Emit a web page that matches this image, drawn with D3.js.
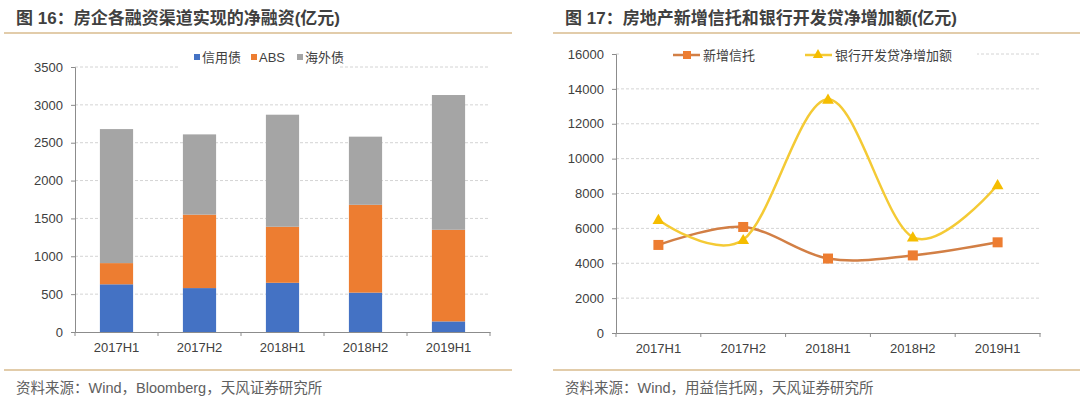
<!DOCTYPE html>
<html>
<head>
<meta charset="utf-8">
<script src="https://cdn.jsdelivr.net/npm/d3@7"></script>
<style>
  body { margin: 0; background: #fff; }
  svg { display: block; font-family: "Liberation Sans", Arial, "Noto Sans CJK SC", sans-serif; }
  .tick text { fill: #404040; font-size: 13px; }
</style>
</head>
<body>
<svg id="chart" width="1080" height="399"></svg>
<script>
// shared categories
const categories = ["2017H1", "2017H2", "2018H1", "2018H2", "2019H1"];

// left chart: net financing by channel (亿元)
const creditBond = [630, 580, 650, 520, 140];
const absBond = [280, 970, 740, 1160, 1210];
const overseasBond = [1770, 1060, 1480, 900, 1780];
const barSeries = ["信用债", "ABS", "海外债"];
const barTicks = [0, 500, 1000, 1500, 2000, 2500, 3000, 3500];

// right chart: trust vs bank development loans (亿元)
const newTrust = [5050, 6080, 4270, 4450, 5200];
const bankLoan = [6500, 5350, 13400, 5500, 8500];
const lineSeries = ["新增信托", "银行开发贷净增加额"];
const lineTicks = [0, 2000, 4000, 6000, 8000, 10000, 12000, 14000, 16000];

const svg = d3.select("#chart");
const textColor = "#404040";
const ruleColor = "#D8BB8E";

// Function used to draw the title, rules and source note of a panel.
const drawFrame = (x0, x1, titleX, title, source) => {
  svg.append("text")
    .attr("x", titleX).attr("y", 24)
    .attr("font-size", 17).attr("font-weight", "bold")
    .attr("fill", textColor)
    .text(title);
  svg.append("line")
    .attr("x1", x0).attr("x2", x1).attr("y1", 33).attr("y2", 33)
    .attr("stroke", ruleColor).attr("stroke-width", 1.5);
  svg.append("line")
    .attr("x1", x0).attr("x2", x1).attr("y1", 370).attr("y2", 370)
    .attr("stroke", ruleColor).attr("stroke-width", 1.5);
  svg.append("text")
    .attr("x", titleX).attr("y", 393)
    .attr("font-size", 14.5).attr("fill", "#606060")
    .text(source);
};

// Function used to draw y gridlines and axes for a panel.
const drawAxes = (x, y, ticks) => {
  const [left, right] = x.range();
  svg.append("g")
    .selectAll("line")
    .data(ticks.filter(d => d > 0))
    .join("line")
      .attr("x1", left).attr("x2", right)
      .attr("y1", d => y(d)).attr("y2", d => y(d))
      .attr("stroke", "#d4d4d4")
      .attr("stroke-dasharray", "3,2");

  const yAxis = svg.append("g")
    .attr("transform", `translate(${left},0)`)
    .call(d3.axisLeft(y).tickValues(ticks).tickSize(4).tickPadding(8).tickFormat(d3.format("d")));
  yAxis.select(".domain").attr("stroke", "#8c8c8c");
  yAxis.selectAll(".tick line").attr("stroke", "#8c8c8c");

  const xAxis = svg.append("g")
    .attr("transform", `translate(0,${y(0)})`)
    .call(d3.axisBottom(x).tickSize(0).tickPadding(11));
  xAxis.select(".domain").attr("stroke", "#8c8c8c");

  // category boundary ticks
  svg.append("g")
    .selectAll("line")
    .data(d3.range(categories.length + 1))
    .join("line")
      .attr("x1", i => left + i * x.step()).attr("x2", i => left + i * x.step())
      .attr("y1", y(0)).attr("y2", y(0) + 4)
      .attr("stroke", "#8c8c8c");
};

// ---------- left panel ----------
drawFrame(4, 512, 16, "图 16：房企各融资渠道实现的净融资(亿元)", "资料来源：Wind，Bloomberg，天风证券研究所");

const xBar = d3.scaleBand().domain(categories).range([75, 490]).paddingInner(0.6).paddingOuter(0.3);
const yBar = d3.scaleLinear().domain([0, 3500]).range([332, 67]);
drawAxes(xBar, yBar, barTicks);

const barColors = d3.scaleOrdinal().domain(barSeries).range(["#4472C4", "#ED7D31", "#A5A5A5"]);
const barRows = categories.map((c, i) => ({
  cat: c, "信用债": creditBond[i], "ABS": absBond[i], "海外债": overseasBond[i]
}));
const stacked = d3.stack().keys(barSeries)(barRows);

svg.append("g")
  .selectAll("g")
  .data(stacked)
  .join("g")
    .attr("fill", d => barColors(d.key))
  .selectAll("rect")
  .data(d => d)
  .join("rect")
    .attr("x", d => xBar(d.data.cat))
    .attr("width", xBar.bandwidth())
    .attr("y", d => yBar(d[1]))
    .attr("height", d => yBar(d[0]) - yBar(d[1]));

// bar legend
const barLegend = svg.append("g");
barLegend.append("rect")
  .attr("x", 178).attr("y", 46).attr("width", 162).attr("height", 22).attr("fill", "#fff");
const barLegendX = [194, 251, 297];
barSeries.forEach((s, i) => {
  barLegend.append("rect")
    .attr("x", barLegendX[i]).attr("y", 54).attr("width", 6).attr("height", 6)
    .attr("fill", barColors(s));
  barLegend.append("text")
    .attr("x", barLegendX[i] + 8).attr("y", 62)
    .attr("font-size", 13).attr("fill", textColor)
    .text(s);
});

// ---------- right panel ----------
drawFrame(553, 1080, 565, "图 17：房地产新增信托和银行开发贷净增加额(亿元)", "资料来源：Wind，用益信托网，天风证券研究所");

const xLine = d3.scaleBand().domain(categories).range([616, 1040]);
const yLine = d3.scaleLinear().domain([0, 16000]).range([333, 54]);
drawAxes(xLine, yLine, lineTicks);

const cx = c => xLine(c) + xLine.bandwidth() / 2;
const smooth = d3.line()
  .x((d, i) => cx(categories[i]))
  .y(d => yLine(d))
  .curve(d3.curveCardinal.tension(0));

const trustLine = "#D27F45";
const trustMark = "#ED7D31";
const loanLine = "#F4CA35";
const loanMark = "#F5BD00";

svg.append("path")
  .datum(newTrust)
  .attr("d", smooth)
  .attr("fill", "none").attr("stroke", trustLine).attr("stroke-width", 2.5);
svg.append("g")
  .selectAll("rect")
  .data(newTrust)
  .join("rect")
    .attr("x", (d, i) => cx(categories[i]) - 5)
    .attr("y", d => yLine(d) - 5)
    .attr("width", 10).attr("height", 10)
    .attr("fill", trustMark);

const triangle = d3.symbol().type(d3.symbolTriangle).size(60);
svg.append("path")
  .datum(bankLoan)
  .attr("d", smooth)
  .attr("fill", "none").attr("stroke", loanLine).attr("stroke-width", 2.5);
svg.append("g")
  .selectAll("path")
  .data(bankLoan)
  .join("path")
    .attr("d", triangle)
    .attr("transform", (d, i) => `translate(${cx(categories[i])},${yLine(d) + 1})`)
    .attr("fill", loanMark);

// line legend
const lineLegend = svg.append("g");
lineLegend.append("rect")
  .attr("x", 619).attr("y", 44).attr("width", 358).attr("height", 22).attr("fill", "#fff");
lineLegend.append("line")
  .attr("x1", 673).attr("x2", 700).attr("y1", 55).attr("y2", 55)
  .attr("stroke", trustLine).attr("stroke-width", 2.5);
lineLegend.append("rect")
  .attr("x", 683).attr("y", 51).attr("width", 8).attr("height", 8).attr("fill", trustMark);
lineLegend.append("text")
  .attr("x", 703).attr("y", 60)
  .attr("font-size", 13).attr("fill", textColor)
  .text(lineSeries[0]);
lineLegend.append("line")
  .attr("x1", 805).attr("x2", 832).attr("y1", 55).attr("y2", 55)
  .attr("stroke", loanLine).attr("stroke-width", 2.5);
lineLegend.append("path")
  .attr("d", d3.symbol().type(d3.symbolTriangle).size(45))
  .attr("transform", "translate(818,55)")
  .attr("fill", loanMark);
lineLegend.append("text")
  .attr("x", 835).attr("y", 60)
  .attr("font-size", 13).attr("fill", textColor)
  .text(lineSeries[1]);
</script>
</body>
</html>
